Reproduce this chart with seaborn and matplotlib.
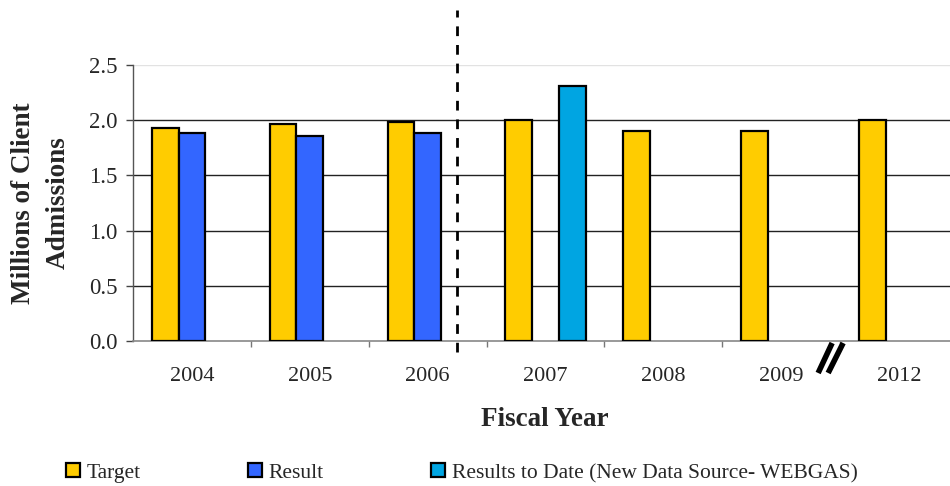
import numpy as np
import pandas as pd
import matplotlib
matplotlib.use("Agg")
import matplotlib.pyplot as plt
import matplotlib.transforms as mtransforms
from matplotlib.lines import Line2D
import seaborn as sns

# ---- data -------------------------------------------------------------
years = ["2004", "2005", "2006", "2007", "2008", "2009", "2012"]
series = ["Target", "Result", "Results to Date (New Data Source- WEBGAS)"]
target = [1.93, 1.97, 1.98, 2.00, 1.90, 1.90, 2.00]
result = [1.88, 1.86, 1.88, None, None, None, None]
to_date = [None, None, None, 2.31, None, None, None]
y_ticks = [0.0, 0.5, 1.0, 1.5, 2.0, 2.5]
colors = ["#FFCC00", "#3366FF", "#00A5E2"]

rows = []
for name, vals in zip(series, [target, result, to_date]):
    for yr, v in zip(years, vals):
        if v is not None:
            rows.append({"year": yr, "series": name, "value": v})
df = pd.DataFrame(rows)

# ---- style ------------------------------------------------------------
sns.set_theme(style="white")
plt.rcParams["font.family"] = ["Liberation Serif", "DejaVu Serif"]

fig = plt.figure(figsize=(9.5, 4.86), dpi=100)
ax = fig.add_axes([133 / 950, 145 / 486, 825 / 950, 276 / 486])

sns.barplot(data=df, x="year", y="value", hue="series", order=years,
            hue_order=series, palette=colors, width=0.68, dodge=True,
            edgecolor="black", linewidth=1.6, saturation=1, legend=False,
            ax=ax, zorder=3)

ax.set_xlim(-0.5, len(years) - 0.5)
ax.set_ylim(0, 2.5)
ax.set_yticks(y_ticks)
ax.set_yticklabels([f"{t:.1f}" for t in y_ticks])
ax.set_xlabel("")
ax.set_ylabel("")

# horizontal grid
for t in y_ticks[1:-1]:
    ax.axhline(t, color="#222222", lw=1.0, zorder=1)
ax.axhline(2.5, color="#e2e2e2", lw=1.0, zorder=1)

for side in ["top", "right"]:
    ax.spines[side].set_visible(False)
ax.spines["left"].set_color("#555555")
ax.spines["left"].set_linewidth(1.0)
ax.spines["bottom"].set_color("#888888")
ax.spines["bottom"].set_linewidth(1.2)

ax.tick_params(axis="y", which="major", direction="out", length=5,
               width=1.0, color="#444444", pad=6, labelsize=16.5,
               left=True)
ax.tick_params(axis="x", which="major", length=0, pad=19, labelsize=16)
ax.set_xticks(np.arange(0.5, len(years) - 1, 1.0), minor=True)
ax.tick_params(axis="x", which="minor", direction="out", length=4,
               width=1.0, color="#777777", bottom=True)

# dashed separator between reported years and the new data source
ax.plot([2.25, 2.25], [-0.1, 3.0], color="black", lw=2.0,
        dashes=(3.5, 3.2), clip_on=False, zorder=5)

# axis break marks between 2009 and 2012
fig.canvas.draw()
bx, by = ax.transData.transform((5.5, 0.0))
anchor = mtransforms.Affine2D().translate(bx, by)
for dx0, dx1 in [(-22, -8), (-12, 3)]:
    ax.add_line(Line2D([dx0, dx1], [-32, -2], transform=anchor,
                       color="black", lw=4.0, solid_capstyle="butt",
                       clip_on=False, zorder=6))

# axis titles
fig.text(41 / 950, 1 - 203 / 486, "Millions of Client\nAdmissions",
         rotation=90, ha="center", va="center", multialignment="center",
         fontsize=19.5, fontweight="bold", linespacing=1.5)
fig.text(545 / 950, 1 - 420 / 486, "Fiscal Year", ha="center",
         va="center", fontsize=19.5, fontweight="bold")

# legend
handles = [Line2D([], [], marker="s", linestyle="none", markersize=10,
                  markerfacecolor=c, markeredgecolor="black",
                  markeredgewidth=1.6) for c in colors]
fig.legend(handles, series, loc="center left",
           bbox_to_anchor=(64 / 950, 1 - 473 / 486), ncol=3, frameon=False,
           fontsize=15.5, handlelength=0.8, handletextpad=0.25,
           columnspacing=4.9, borderaxespad=0, borderpad=0)

fig.savefig("out.png", dpi=100)
